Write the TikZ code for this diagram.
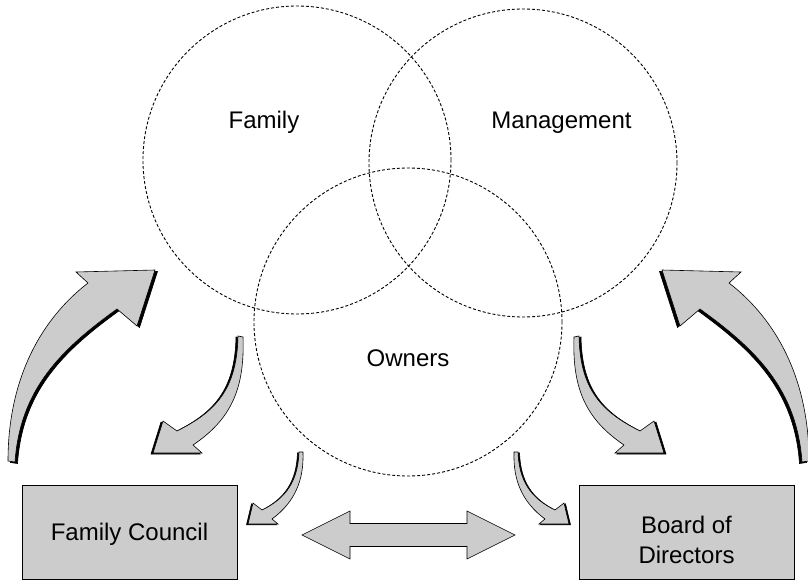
\documentclass[tikz,border=0pt]{standalone}
\usepackage{fontspec}
\setmainfont{Liberation Sans}
\definecolor{boxgray}{HTML}{CCCCCC}
\begin{document}
\begin{tikzpicture}[x=1pt,y=-1pt,
  venn/.style={circle, draw=black, line width=0.9pt, dash pattern=on 3pt off 2pt, minimum size=308pt, inner sep=0pt},
  lbl/.style={font=\fontsize{24}{30}\selectfont, anchor=base, inner sep=0pt, align=center},
  boxstyle/.style={rectangle, draw=black, fill=boxgray, line width=0.8pt, minimum width=215pt, minimum height=94pt, inner sep=0pt},
  blockfill/.style={fill=boxgray, draw=black, line width=0.6pt, line join=miter},
  shadowfill/.style={fill=black, draw=black, line width=0.6pt}
]
\useasboundingbox (0,0) rectangle (808,580);
\fill[white] (0,0) rectangle (808,580);

% Venn circles
\node[venn] (family) at (297,160) {};
\node[venn] (management) at (523,163) {};
\node[venn] (owners) at (408,322) {};
\node[lbl] (familylbl) at (264,129) {Family};
\node[lbl] (managementlbl) at (561.5,129) {Management};
\node[lbl] (ownerslbl) at (408,366.5) {Owners};

% Boxes
\node[boxstyle] (council) at (129.5,532) {};
\node[boxstyle] (board) at (686.5,532) {};
\node[lbl] (councillbl) at (council.center) [yshift=-8pt] {Family Council};
\node[lbl, anchor=center] (boardlbl) at (686.5,540) {Board of\\Directors};

% Arrow shapes
\def\bigarrowpath{(8,461) .. controls (8,380) and (40,320) .. (88,283) -- (76,272) -- (155,270) -- (137,326) -- (117,309) .. controls (60,350) and (20,390) .. (15,462) -- cycle}
\def\smallarrowpath{(238,336) .. controls (237,390) and (215,412) .. (177,431) -- (163,421) -- (153,453) -- (202,453) -- (193,445) .. controls (230,420) and (245,390) .. (243,337) -- cycle}
\def\tinyarrowpath{(299,452) .. controls (298,480) and (287,498) .. (262,510) -- (253,503) -- (248,524) -- (278,524) -- (272,519) .. controls (295,502) and (304,480) .. (303,452) -- cycle}

\foreach \flip/\shiftx in {1/0,-1/817}{
\begin{scope}[shift={(\shiftx,0)}, xscale=\flip]
  \filldraw[shadowfill, shift={(2.5,1.5)}] \bigarrowpath;
  \filldraw[blockfill] \bigarrowpath;
  \filldraw[shadowfill, shift={(-2,1)}] \smallarrowpath;
  \filldraw[blockfill] \smallarrowpath;
  \filldraw[shadowfill, shift={(-1.5,0.8)}] \tinyarrowpath;
  \filldraw[blockfill] \tinyarrowpath;
\end{scope}
}

% Double arrow between boxes
\draw[blockfill] (302,535) -- (350,511) -- (350,523.5) -- (467,523.5) -- (467,511) -- (515,535) -- (467,559) -- (467,546.5) -- (350,546.5) -- (350,559) -- cycle;
\end{tikzpicture}
\end{document}
